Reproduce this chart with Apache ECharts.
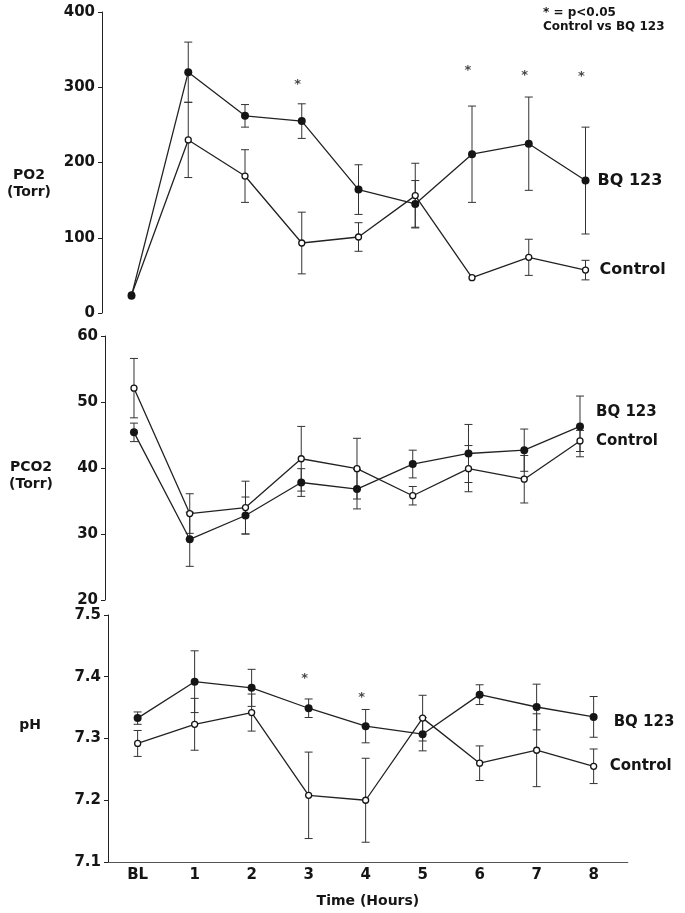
<!DOCTYPE html>
<html>
<head>
<meta charset="utf-8">
<script src="https://cdn.jsdelivr.net/npm/echarts@6/dist/echarts.min.js"></script>
<style>
  html, body { margin: 0; padding: 0; background: #fff; }
  #main { width: 685px; height: 913px; }
</style>
</head>
<body>
<div id="main"></div>
<script>
// time points
const cats = ['BL', '1', '2', '3', '4', '5', '6', '7', '8'];

// PO2 (Torr)
const po2Bq = [23, 320, 262, 255, 164, 145, 211, 225, 176];
const po2BqErr = [0, 40, 15, 23, 33, 31, 64, 62, 71];
const po2Ctl = [24, 230, 182, 93, 101, 156, 47, 74, 57];
const po2CtlErr = [0, 50, 35, 41, 19, 43, 0, 24, 13];
const po2Sig = [null, null, null, 307, null, null, 326, 320, 318];

// PCO2 (Torr)
const pco2Bq = [45.4, 29.2, 32.8, 37.8, 36.8, 40.6, 42.2, 42.7, 46.3];
const pco2BqErr = [1.4, 4.1, 2.8, 2.1, 3.0, 2.1, 4.4, 3.2, 4.6];
const pco2Ctl = [52.1, 33.1, 34.0, 41.4, 39.9, 35.8, 39.9, 38.3, 44.1];
const pco2CtlErr = [4.5, 3.0, 4.0, 4.9, 4.6, 1.4, 3.5, 3.6, 1.6];

// pH
const phBq = [7.333, 7.392, 7.382, 7.349, 7.320, 7.307, 7.371, 7.351, 7.335];
const phBqErr = [0.01, 0.05, 0.03, 0.015, 0.027, 0.027, 0.016, 0.037, 0.033];
const phCtl = [7.292, 7.323, 7.342, 7.208, 7.200, 7.333, 7.260, 7.281, 7.255];
const phCtlErr = [0.021, 0.042, 0.03, 0.07, 0.068, 0.037, 0.028, 0.059, 0.028];
const phSig = [null, null, null, 7.402, 7.371, null, null, null, null];

const FONT = 'DejaVu Sans';
const INK = '#151515';

function pts(vals) { return vals.map((v, i) => [i, v]); }
function errPts(vals, errs) { return vals.map((v, i) => [i, v, errs[i]]); }
function sigPts(vals) { return vals.map((v, i) => [i, v]).filter(d => d[1] != null); }

function renderErr(params, api) {
  const x = api.value(0), y = api.value(1), e = api.value(2);
  if (!e) return;
  const hi = api.coord([x, y + e]);
  const lo = api.coord([x, y - e]);
  const w = 4;
  const st = { stroke: '#333', lineWidth: 1 };
  return {
    type: 'group',
    children: [
      { type: 'line', shape: { x1: hi[0], y1: hi[1], x2: lo[0], y2: lo[1] }, style: st },
      { type: 'line', shape: { x1: hi[0] - w, y1: hi[1], x2: hi[0] + w, y2: hi[1] }, style: st },
      { type: 'line', shape: { x1: lo[0] - w, y1: lo[1], x2: lo[0] + w, y2: lo[1] }, style: st }
    ]
  };
}

function errSeries(idx, vals, errs) {
  return {
    type: 'custom', xAxisIndex: idx, yAxisIndex: idx, z: 1,
    renderItem: renderErr, data: errPts(vals, errs), silent: true
  };
}

function lineSeries(idx, name, vals, filled, lbl) {
  return {
    type: 'line', name: name, xAxisIndex: idx, yAxisIndex: idx, z: 3,
    data: pts(vals),
    symbol: 'circle',
    symbolSize: filled ? 8 : 6,
    lineStyle: { color: '#222', width: 1.3 },
    itemStyle: filled
      ? { color: INK, borderColor: INK, borderWidth: 0 }
      : { color: '#fff', borderColor: INK, borderWidth: 1.3 },
    endLabel: {
      show: true, formatter: name, fontFamily: FONT, fontWeight: 'bold',
      fontSize: lbl.size, color: INK, distance: lbl.dist, offset: lbl.off || [0, 0]
    }
  };
}

function sigSeries(idx, vals) {
  return {
    type: 'scatter', xAxisIndex: idx, yAxisIndex: idx, symbolSize: 1,
    itemStyle: { color: 'rgba(0,0,0,0)' }, z: 4,
    data: sigPts(vals),
    label: {
      show: true, position: 'inside', formatter: '*', fontFamily: FONT,
      fontWeight: 'bold', fontSize: 13, color: INK, offset: [-4, 3]
    }
  };
}

const xMin = -0.52, xMax = 8.6;
function xAx(idx, showIt) {
  return {
    type: 'value', gridIndex: idx, min: xMin, max: xMax,
    show: showIt,
    axisLine: { show: showIt, onZero: false, lineStyle: { color: '#555', width: 1 } },
    axisTick: { show: false },
    splitLine: { show: false },
    axisLabel: {
      show: showIt, customValues: [0, 1, 2, 3, 4, 5, 6, 7, 8],
      formatter: v => cats[v], margin: 6,
      fontFamily: FONT, fontWeight: 'bold', fontSize: 15, color: INK
    },
    name: showIt ? 'Time (Hours)' : '',
    nameLocation: 'middle', nameGap: 32,
    nameTextStyle: { fontFamily: FONT, fontWeight: 'bold', fontSize: 14, color: INK }
  };
}
function yAx(idx, min, max, step, dec) {
  return {
    type: 'value', gridIndex: idx, min: min, max: max, interval: step,
    axisLine: { show: true, onZero: false, lineStyle: { color: '#222', width: 1 } },
    axisTick: { show: true, length: 4, lineStyle: { color: '#222' } },
    splitLine: { show: false },
    axisLabel: {
      margin: 7, fontFamily: FONT, fontWeight: 'bold', fontSize: 15, color: INK,
      formatter: v => v.toFixed(dec)
    }
  };
}

const chart = echarts.init(document.getElementById('main'));
chart.setOption({
  animation: false,
  backgroundColor: '#fff',
  grid: [
    { left: 102, top: 12, width: 9.12 * 56.75, height: 301, outerBoundsMode: 'none' },
    { left: 105, top: 336, width: 9.12 * 55.75, height: 264, outerBoundsMode: 'none' },
    { left: 108, top: 615, width: 9.12 * 57, height: 247, outerBoundsMode: 'none' }
  ],
  xAxis: [xAx(0, false), xAx(1, false), xAx(2, true)],
  yAxis: [yAx(0, 0, 400, 100, 0), yAx(1, 20, 60, 10, 0), yAx(2, 7.1, 7.5, 0.1, 1)],
  graphic: [
    { type: 'text', x: 29, y: 184, style: { text: 'PO2\n(Torr)', fontFamily: FONT, fontWeight: 'bold', fontSize: 14, lineHeight: 17, fill: INK, textAlign: 'center', textVerticalAlign: 'middle' } },
    { type: 'text', x: 31, y: 476, style: { text: 'PCO2\n(Torr)', fontFamily: FONT, fontWeight: 'bold', fontSize: 14, lineHeight: 17, fill: INK, textAlign: 'center', textVerticalAlign: 'middle' } },
    { type: 'text', x: 30, y: 725, style: { text: 'pH', fontFamily: FONT, fontWeight: 'bold', fontSize: 14, fill: INK, textAlign: 'center', textVerticalAlign: 'middle' } },
    { type: 'text', x: 543, y: 20, style: { text: '* = p<0.05\nControl vs BQ 123', fontFamily: FONT, fontWeight: 'bold', fontSize: 12, lineHeight: 13.5, fill: INK, textAlign: 'left', textVerticalAlign: 'middle' } }
  ],
  series: [
    errSeries(0, po2Ctl, po2CtlErr),
    errSeries(0, po2Bq, po2BqErr),
    lineSeries(0, 'Control', po2Ctl, false, { size: 16, dist: 14 }),
    lineSeries(0, 'BQ 123', po2Bq, true, { size: 16, dist: 12 }),
    sigSeries(0, po2Sig),

    errSeries(1, pco2Ctl, pco2CtlErr),
    errSeries(1, pco2Bq, pco2BqErr),
    lineSeries(1, 'Control', pco2Ctl, false, { size: 15, dist: 16 }),
    lineSeries(1, 'BQ 123', pco2Bq, true, { size: 15, dist: 16, off: [0, -14] }),

    errSeries(2, phCtl, phCtlErr),
    errSeries(2, phBq, phBqErr),
    lineSeries(2, 'Control', phCtl, false, { size: 15, dist: 16 }),
    lineSeries(2, 'BQ 123', phBq, true, { size: 15, dist: 20, off: [0, 5] }),
    sigSeries(2, phSig)
  ]
});
</script>
</body>
</html>
